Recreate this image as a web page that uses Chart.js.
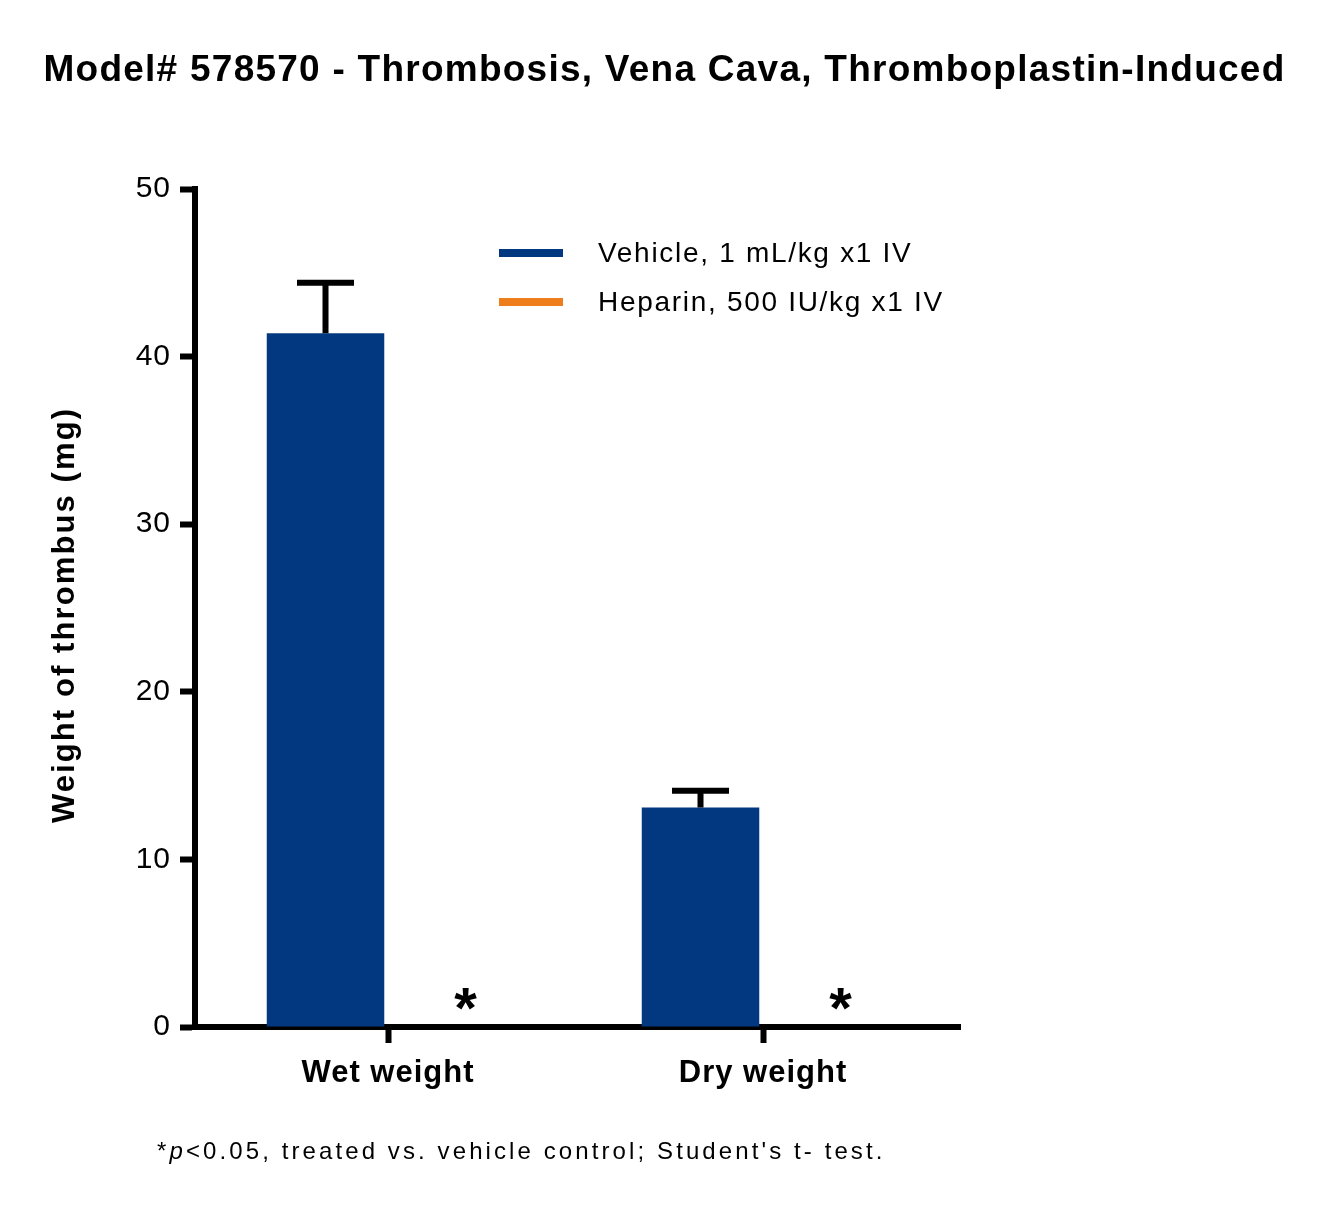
<!DOCTYPE html>
<html>
<head>
<meta charset="utf-8">
<script src="https://cdn.jsdelivr.net/npm/chart.js@4.4.1/dist/chart.umd.min.js"></script>
<style>
  html, body { margin: 0; padding: 0; background: #fff; }
  body { width: 1329px; height: 1212px; position: relative; overflow: hidden; font-family: 'Liberation Sans', Arial, sans-serif; }
  #wrap { position: absolute; left: 0; top: 0; width: 1329px; height: 1212px; }
  #title { position: absolute; left: 0; width: 1329px; top: 48px; text-align: center; font-weight: bold; font-size: 37px; line-height: normal; color: #000; letter-spacing: 1.25px; white-space: nowrap; }
  #note { position: absolute; left: 157px; top: 1137px; font-size: 24px; line-height: normal; color: #000; letter-spacing: 3.1px; white-space: nowrap; }
</style>
</head>
<body>
<div id="wrap"><canvas id="chart" width="1329" height="1212"></canvas></div>
<div id="title">Model# 578570 - Thrombosis, Vena Cava, Thromboplastin-Induced</div>
<div id="note">*<i>p</i>&lt;0.05, treated vs. vehicle control; Student's t- test.</div>
<script>
/* global Chart */

const categories = ['Wet weight', 'Dry weight']
const seriesNames = ['Vehicle, 1 mL/kg x1 IV', 'Heparin, 500 IU/kg x1 IV']
const vehicleValues = [41.4, 13.1]
const vehicleErrors = [3.0, 1.0]
const heparinValues = [0, 0]
const heparinErrors = [0, 0]
const significant = [true, true]
const yTicks = [0, 10, 20, 30, 40, 50]
const yTitle = 'Weight of thrombus (mg)'

const BLUE = '#02387f'
const ORANGE = '#ee7d1c'
const FONT = "'Liberation Sans', Arial, sans-serif"

const toPoints = vals => vals.map((v, i) => ({ x: i, y: v }))

const spacing = {
  id: 'spacing',
  beforeDraw (chart) { chart.ctx.letterSpacing = '1px' }
}

const errorBars = {
  id: 'errorBars',
  afterDatasetsDraw (chart) {
    const ctx = chart.ctx
    const y = chart.scales.y
    ctx.save()
    ctx.strokeStyle = '#000'
    ctx.lineWidth = 6
    chart.data.datasets.forEach((ds, di) => {
      const meta = chart.getDatasetMeta(di)
      ds.errors.forEach((err, i) => {
        if (!err) return
        const bar = meta.data[i]
        const top = y.getPixelForValue(ds.values[i] + err)
        ctx.beginPath()
        ctx.moveTo(bar.x, bar.y)
        ctx.lineTo(bar.x, top)
        ctx.moveTo(bar.x - 28.5, top)
        ctx.lineTo(bar.x + 28.5, top)
        ctx.stroke()
      })
    })
    // significance marks beside the heparin bars
    const meta = chart.getDatasetMeta(1)
    ctx.fillStyle = '#000'
    ctx.letterSpacing = '0px'
    ctx.font = 'bold 58px ' + FONT
    ctx.textAlign = 'center'
    ctx.textBaseline = 'alphabetic'
    significant.forEach((s, i) => {
      if (!s) return
      const bar = meta.data[i]
      ctx.fillText('*', bar.x + 15, bar.y + 1)
    })
    ctx.restore()
  }
}

const extras = {
  id: 'extras',
  afterDraw (chart) {
    const ctx = chart.ctx
    const area = chart.chartArea
    ctx.save()
    // legend inside the plot
    ctx.font = '28px ' + FONT
    ctx.letterSpacing = '1.7px'
    ctx.textBaseline = 'middle'
    ctx.textAlign = 'left'
    chart.data.datasets.forEach((ds, i) => {
      const yy = 253 + i * 49
      ctx.fillStyle = ds.backgroundColor
      ctx.fillRect(499, yy - 4, 64, 8)
      ctx.fillStyle = '#000'
      ctx.fillText(ds.label, 598, yy + 1)
    })
    // y axis title
    ctx.translate(65, (area.top + area.bottom) / 2 + 7)
    ctx.rotate(-Math.PI / 2)
    ctx.font = 'bold 31px ' + FONT
    ctx.letterSpacing = '2.1px'
    ctx.textAlign = 'center'
    ctx.fillText(yTitle, 0, 0)
    ctx.restore()
  }
}

const ctx = document.getElementById('chart').getContext('2d')
new Chart(ctx, {
  type: 'bar',
  data: {
    datasets: [
      { label: seriesNames[0], data: toPoints(vehicleValues), values: vehicleValues, errors: vehicleErrors, backgroundColor: BLUE },
      { label: seriesNames[1], data: toPoints(heparinValues), values: heparinValues, errors: heparinErrors, backgroundColor: ORANGE }
    ]
  },
  options: {
    responsive: false,
    animation: false,
    devicePixelRatio: 1,
    categoryPercentage: 0.6667,
    barPercentage: 0.94,
    layout: { padding: { left: 0, right: 369, top: 189, bottom: 0 } },
    plugins: { legend: { display: false }, tooltip: { enabled: false } },
    scales: {
      x: {
        type: 'linear',
        offset: false,
        min: -0.5147,
        max: 1.5253,
        afterFit (scale) { scale.height = 185 },
        afterBuildTicks (scale) { scale.ticks = categories.map((c, i) => ({ value: i })) },
        grid: { offset: false, drawOnChartArea: false, tickLength: 16, tickWidth: 6, tickColor: '#000' },
        border: { display: true, color: '#000', width: 6 },
        ticks: {
          color: '#000',
          padding: 12,
          font: { family: FONT, size: 31, weight: 'bold' },
          callback: v => categories[v]
        }
      },
      y: {
        min: 0,
        max: 50,
        afterFit (scale) { scale.width = 195 },
        afterBuildTicks (scale) { scale.ticks = yTicks.map(v => ({ value: v })) },
        grid: { drawOnChartArea: false, tickLength: 15, tickWidth: 6, tickColor: '#000' },
        border: { display: true, color: '#000', width: 6 },
        ticks: { color: '#000', padding: 9, font: { family: FONT, size: 30 } }
      }
    }
  },
  plugins: [spacing, errorBars, extras]
})
</script>
</body>
</html>
